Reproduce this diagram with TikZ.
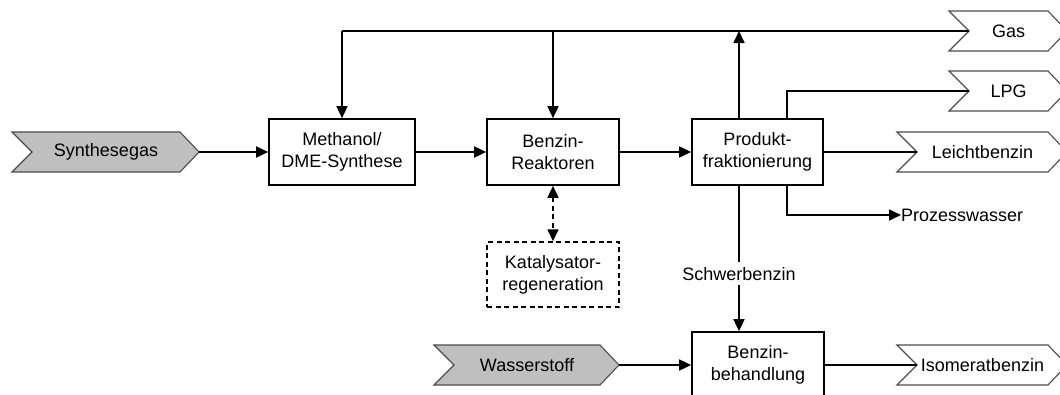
\documentclass[tikz,border=0pt]{standalone}
\usepackage{fontspec}
\setmainfont{Liberation Sans}
\usetikzlibrary{arrows.meta}
\newcommand\mychev[6]{%
  \path[#5] (#2,{#4-20}) -- (#3,{#4-20}) -- ({#3+19},#4) -- (#3,{#4+20}) -- (#2,{#4+20}) -- ({#2+20},#4) -- cycle;
  \node[lbl] (#1) at ({(#2+20+#3)/2},#4) {#6};
  \coordinate (#1in) at ({#2+20},#4);
  \coordinate (#1out) at ({#3+19},#4);
}
\begin{document}
\begin{tikzpicture}[x=1pt,y=-1pt,
  lbl/.style={font=\fontsize{18pt}{21.7pt}\selectfont, inner sep=0pt, align=center},
  box/.style={lbl, draw, line width=1.7pt, minimum height=66pt},
  dbox/.style={box, dash pattern=on 5pt off 3.5pt, line width=1.5pt},
  inchev/.style={fill=black!25, draw=black!70, line width=1.1pt},
  outchev/.style={fill=white, draw=black!70, line width=1.1pt},
  conn/.style={line width=1.7pt},
  arr/.style={conn, -{Triangle[length=12pt,width=11pt]}},
  darr/.style={conn, dash pattern=on 5pt off 3.5pt, {Triangle[length=12pt,width=11pt]}-{Triangle[length=12pt,width=11pt]}}
]
\useasboundingbox (0,0) rectangle (1060,394);
\clip (0,0) rectangle (1060,394);

% chevrons
\mychev{syn}{12}{180}{152}{inchev}{Synthesegas}
\mychev{was}{434}{600}{365}{inchev}{Wasserstoff}
\mychev{gas}{949}{1048}{31}{outchev}{Gas}
\mychev{lpg}{949}{1048}{91}{outchev}{LPG}
\mychev{lb}{897}{1048}{152}{outchev}{Leichtbenzin}
\mychev{iso}{897}{1048}{365}{outchev}{Isomeratbenzin}

% boxes
\node[box, minimum width=146pt] (met) at (342,152) {Methanol/\\DME-Synthese};
\node[box, minimum width=132pt] (ben) at (553,152) {Benzin-\\Reaktoren};
\node[box, minimum width=131pt] (prod) at (757.5,152) {Produkt-\\fraktionierung};
\node[dbox, minimum width=132pt, minimum height=65pt] (kat) at (553,274.5) {Katalysator-\\regeneration};
\node[box, minimum width=132pt] (beh) at (758,365) {Benzin-\\behandlung};
\node[lbl, anchor=west] (pw) at (901,215) {Prozesswasser};
\node[lbl, fill=white, inner sep=4.5pt] (sb) at (739,273.7) {Schwerbenzin};

\coordinate (tl) at (342,31);
\coordinate (pupl) at (739,185);
\coordinate (pupr) at (787,119);
\coordinate (pdnr) at (787,185);

% connectors
\draw[arr] (synout) -- (met.west);
\draw[arr] (met.east) -- (ben.west);
\draw[arr] (ben.east) -- (prod.west);
\draw[conn] (tl) -- (gasin);
\draw[arr] (tl) -- (met.north);
\draw[arr] (tl -| ben.north) -- (ben.north);
\draw[arr] (pupl |- prod.north) -- (pupl |- tl);
\draw[conn] (pupr) |- (lpgin);
\draw[conn] (prod.east) -- (lbin);
\draw[arr] (pdnr) |- (pw.west);
\draw[conn] (pupl) -- (sb.north);
\draw[arr] (sb.south) -- (sb.south |- beh.north);
\draw[arr] (wasout) -- (beh.west);
\draw[conn] (beh.east) -- (isoin);
\draw[darr] (ben.south) -- (kat.north);
\end{tikzpicture}
\end{document}
